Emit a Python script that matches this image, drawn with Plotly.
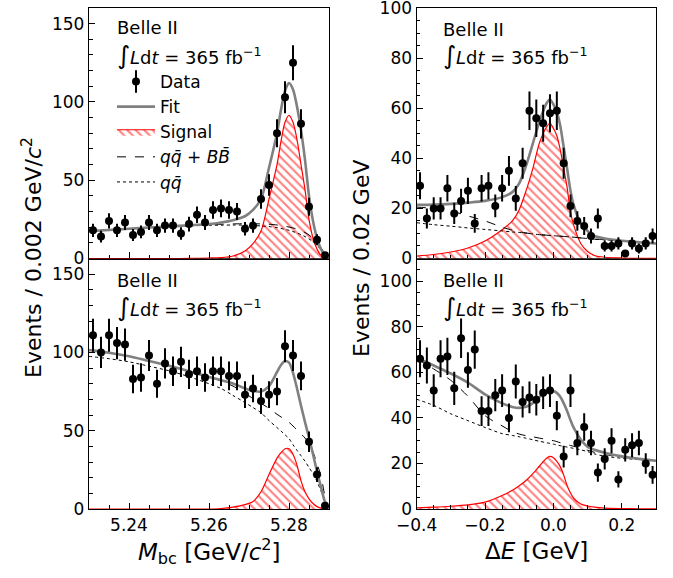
import numpy as np
import plotly.graph_objects as go

# ---------------- data ----------------
mbc_bins = [round(5.231 + 0.002 * i, 3) for i in range(30)]
de_bins = [round(-0.39 + 0.02 * i, 2) for i in range(35)]

mbc_top_counts = [18, 14, 24, 18, 23, 15, 17, 23, 18, 21, 21, 16, 22, 28, 23,
                  31, 32, 31, 30, 19, 21, 38, 47, 80, 103, 125, 86, 33, 12, 2]
mbc_bot_counts = [111, 100, 111, 106, 105, 83, 84, 98, 80, 93, 88, 94, 86, 88, 84,
                  88, 88, 85, 85, 73, 77, 69, 73, 75, 104, 98, 85, 43, 22, 2]
de_top_counts = [29, 16, 20, 20, 28, 18, 23, 27, 14, 28, 29, 21, 28, 35, 24, 38, 59, 56,
                 54, 58, 59, 38, 21, 15, 13, 9, 16, 5, 5, 6, 2, 6, 4, 6, 9]
de_bot_counts = [66, 63, 52, 66, 67, 53, 75, 61, 70, 43, 43, 50, 52, 40, 56, 47, 49, 48,
                 51, 52, 41, 23, 52, 29, 36, 29, 16, 22, 30, 13, 26, 28, 29, 20, 15]

mbc_grid = [5.23, 5.235, 5.24, 5.245, 5.25, 5.255, 5.26, 5.263, 5.266, 5.269, 5.271,
            5.273, 5.275, 5.277, 5.278, 5.279, 5.28, 5.281, 5.282, 5.283, 5.284, 5.285,
            5.286, 5.287, 5.288, 5.289, 5.29]
mbc_top_fit = [17.5, 18.2, 19, 19.8, 20.5, 21.2, 22.0, 23.0, 24.5, 27, 31, 38, 58, 80,
               95, 107, 112, 108, 97, 82, 63, 40, 24, 13, 6, 2, 0]
mbc_top_sig = [0, 0, 0, 0, 0, 0.05, 0.3, 0.6, 1.6, 4.8, 9.5, 17.5, 38, 60, 75, 87, 91.5,
               87, 76, 60, 44, 25, 13, 6, 2, 0.6, 0]
mbc_top_bkg = [17.5, 18.2, 19, 19.8, 20.5, 21.1, 21.6, 21.9, 22.1, 22.2, 22.2, 22.1, 21.9,
               21.4, 21.0, 20.6, 20.1, 19.5, 18.8, 17.8, 16.6, 15, 12.8, 10, 6.8, 3.5, 0]
mbc_top_qq = [17.5, 18.2, 19, 19.7, 20.3, 20.8, 21.2, 21.3, 21.4, 21.3, 21.1, 20.8, 20.4,
              19.7, 19.2, 18.6, 18, 17.2, 16.3, 15.2, 14, 12.5, 10.6, 8.3, 5.8, 3, 0]

mbc_bot_fit = [101.5, 99.8, 97.5, 94.5, 91.5, 88, 84.3, 82.3, 80.2, 77, 75.5, 75, 78.5,
               87.5, 92, 94.5, 93.5, 87, 77, 66, 55.5, 45.5, 35, 24, 14, 4.5, 0]
mbc_bot_sig = [0, 0, 0, 0, 0, 0, 0, 0.3, 1.2, 2.8, 4.8, 11, 22, 32.5, 36, 38.5, 38.5, 35,
               28, 18, 11, 6.5, 3.5, 1.5, 0.6, 0.2, 0]
mbc_bot_bkg = [101.5, 99.8, 97.5, 94.5, 91.5, 88, 84.2, 81.8, 78.5, 74, 70.5, 67.5, 64.3,
               60.5, 58.8, 57.3, 55.4, 53, 50.5, 48, 45.3, 42, 36.5, 29, 21, 8, 0]
mbc_bot_qq = [97.5, 96, 94, 91.2, 88.3, 84.5, 80, 77, 72.5, 68, 64.8, 61.5, 56.5, 52, 49.8,
              47.4, 45, 41, 37.5, 34, 30.5, 26.5, 22.5, 17.5, 11.5, 5, 0]

de_grid = [-0.4, -0.35, -0.3, -0.25, -0.2, -0.15, -0.12, -0.1, -0.08, -0.06, -0.04, -0.02,
           -0.01, 0.0, 0.01, 0.02, 0.03, 0.04, 0.05, 0.06, 0.08, 0.1, 0.12, 0.15, 0.2,
           0.25, 0.3]
de_top_fit = [21.4, 21.5, 21.8, 22.3, 23, 24.5, 26.5, 30, 37, 46, 55, 62, 63.5, 61.5, 58.5,
              53, 44.5, 36, 27, 21, 14, 11, 9, 8.0, 7.1, 6.5, 6.0]
de_top_sig = [1.0, 1.6, 2.6, 4.2, 7.0, 11.5, 15, 19.5, 27, 36, 46.5, 52.5, 54, 52, 49,
              43.5, 36, 28.5, 18.5, 13, 6, 2.8, 1.2, 0.5, 0.2, 0.1, 0.05]
de_top_bkg = [20.5, 20, 19, 17, 15, 12.5, 11.3, 10.7, 10.2, 9.8, 9.5, 9.3, 9.2, 9.1, 9.0,
              8.9, 8.8, 8.7, 8.6, 8.5, 8.2, 8.0, 7.7, 7.6, 7.0, 6.4, 5.9]
de_top_qq = [14.3, 13.5, 12.9, 12.2, 11.6, 11, 10.6, 10.4, 10.1, 9.8, 9.5, 9.3, 9.2, 9.1,
             9.0, 8.9, 8.8, 8.7, 8.6, 8.5, 8.2, 8.0, 7.7, 7.5, 6.9, 6.4, 5.8]

de_bot_fit = [66.5, 63, 59.5, 55.5, 50.3, 46.4, 44.8, 44.4, 44.9, 46.5, 49.3, 51.3, 52,
              51.8, 51, 49.3, 46.5, 43, 39, 35.5, 30.5, 27.3, 26, 24.7, 23.1, 22, 21.2]
de_bot_sig = [0.5, 0.8, 1.2, 1.8, 3.0, 5.9, 8.2, 10.2, 12.5, 15.5, 19, 22.3, 23.1, 22.5,
              20.9, 18.6, 15, 10.3, 7, 4.6, 2.2, 1.3, 0.8, 0.4, 0.2, 0.1, 0.05]
de_bot_bkg = [66, 61.5, 56.5, 49.5, 41, 36.5, 34, 32.9, 32.2, 31.7, 31.1, 30.6, 30.3, 30,
              29.6, 29.1, 28.7, 28.3, 27.9, 27.5, 26.7, 25.8, 24.9, 23.9, 22.8, 22, 21.2]
de_bot_qq = [48.2, 45.5, 41.8, 38.8, 35.8, 33.1, 32.3, 31.7, 31.1, 30.4, 29.7, 29.1, 28.8,
             28.5, 28.1, 27.8, 27.5, 27.2, 26.9, 26.6, 26, 25.2, 24.2, 23.2, 22.3, 21.7, 21.2]

# ---------------- figure ----------------
FONT = "DejaVu Sans"
fig = go.Figure()

QQ_BB = "<i>q</i><i>q\u0304</i> + <i>B</i><i>B\u0304</i>"
QQ = "<i>q</i><i>q\u0304</i>"


def add_panel(xa, ya, bins, counts, grid, fit, sig, bkg, qq, legend):
    fig.add_trace(go.Scatter(
        x=grid, y=sig, xaxis=xa, yaxis=ya, mode="lines", name="Signal",
        line=dict(color="red", width=1.2, shape="spline", smoothing=0.8),
        fill="tozeroy", fillcolor="white",
        fillpattern=dict(shape="\\", fgcolor="red", bgcolor="white", size=6, solidity=0.35),
        showlegend=legend, legendrank=3))
    fig.add_trace(go.Scatter(
        x=grid, y=qq, xaxis=xa, yaxis=ya, mode="lines", name=QQ,
        line=dict(color="black", width=1, dash="dot", shape="spline", smoothing=0.8),
        showlegend=legend, legendrank=5))
    fig.add_trace(go.Scatter(
        x=grid, y=bkg, xaxis=xa, yaxis=ya, mode="lines", name=QQ_BB,
        line=dict(color="black", width=1, dash="dash", shape="spline", smoothing=0.8),
        showlegend=legend, legendrank=4))
    fig.add_trace(go.Scatter(
        x=grid, y=fit, xaxis=xa, yaxis=ya, mode="lines", name="Fit",
        line=dict(color="#808080", width=2.6, shape="spline", smoothing=0.8),
        showlegend=legend, legendrank=2))
    fig.add_trace(go.Scatter(
        x=bins, y=counts, xaxis=xa, yaxis=ya, mode="markers", name="Data",
        marker=dict(color="black", size=8),
        error_y=dict(type="data", array=np.sqrt(np.array(counts, dtype=float)),
                     color="black", thickness=2, width=0),
        cliponaxis=False, showlegend=legend, legendrank=1))


add_panel("x3", "y3", mbc_bins, mbc_top_counts, mbc_grid, mbc_top_fit, mbc_top_sig,
          mbc_top_bkg, mbc_top_qq, True)
add_panel("x4", "y4", de_bins, de_top_counts, de_grid, de_top_fit, de_top_sig,
          de_top_bkg, de_top_qq, False)
add_panel("x", "y", mbc_bins, mbc_bot_counts, mbc_grid, mbc_bot_fit, mbc_bot_sig,
          mbc_bot_bkg, mbc_bot_qq, False)
add_panel("x2", "y2", de_bins, de_bot_counts, de_grid, de_bot_fit, de_bot_sig,
          de_bot_bkg, de_bot_qq, False)

# legend-only glyph: vertical error bar drawn over the "Data" legend marker
fig.add_trace(go.Scatter(
    x=[None], y=[None], xaxis="x3", yaxis="y3", mode="markers", name=" ",
    marker=dict(symbol="line-ns", size=18, color="black",
                line=dict(width=2, color="black")),
    showlegend=True, legend="legend2"))

LEFT_DOM = [0.0, 0.4233]
RIGHT_DOM = [0.5778, 1.0]

axis_common = dict(showline=True, linecolor="black", linewidth=1.3, mirror=True,
                   ticks="inside", ticklen=6, tickwidth=1, tickcolor="black",
                   showgrid=False, zeroline=False, automargin=False,
                   tickfont=dict(family=FONT, size=17, color="black"))


def minor(d, t0=0):
    return dict(ticks="inside", ticklen=3.5, tickwidth=1, tickcolor="black",
                dtick=d, tick0=t0, showgrid=False)


mbc_ticks = [5.24, 5.26, 5.28]
de_ticks = [-0.4, -0.2, 0.0, 0.2]
de_ticktext = ["\u22120.4", "\u22120.2", "0.0", "0.2"]

fig.update_layout(
    xaxis=dict(axis_common, domain=LEFT_DOM, range=[5.23, 5.29], tickvals=mbc_ticks,
               ticktext=["5.24", "5.26", "5.28"], minor=minor(0.005, 5.23), anchor="y"),
    yaxis=dict(axis_common, domain=[0, 0.5], range=[0, 160], tickvals=[0, 50, 100, 150],
               minor=minor(10), anchor="x"),
    xaxis2=dict(axis_common, domain=RIGHT_DOM, range=[-0.4, 0.3], tickvals=de_ticks,
                ticktext=de_ticktext, minor=minor(0.05, -0.4), anchor="y2"),
    yaxis2=dict(axis_common, domain=[0, 0.5], range=[0, 110],
                tickvals=[0, 20, 40, 60, 80, 100], minor=minor(5), anchor="x2"),
    xaxis3=dict(axis_common, domain=LEFT_DOM, range=[5.23, 5.29], tickvals=mbc_ticks,
                showticklabels=False, minor=minor(0.005, 5.23), anchor="y3"),
    yaxis3=dict(axis_common, domain=[0.5, 1], range=[0, 160], tickvals=[0, 50, 100, 150],
                minor=minor(10), anchor="x3"),
    xaxis4=dict(axis_common, domain=RIGHT_DOM, range=[-0.4, 0.3], tickvals=de_ticks,
                showticklabels=False, minor=minor(0.05, -0.4), anchor="y4"),
    yaxis4=dict(axis_common, domain=[0.5, 1], range=[0, 100], ticklabeloverflow="allow",
                tickvals=[0, 20, 40, 60, 80, 100], minor=minor(5), anchor="x4"),
)

W, H = 673, 578
ML, MR, MT, MB = 89, 17, 8, 69
PW, PH = W - ML - MR, H - MT - MB


def px(x):
    return (x - ML) / PW


def py(y):
    return (H - MB - y) / PH


annots = []
INTEG = ("<span style='font-size:25px'>\u222b</span><i>L</i>d<i>t</i> = 365 fb"
         "<sup>\u22121</sup>")
for (x0, yb, yi) in [(115, 28, 55), (441, 29, 56), (115, 280, 307), (441, 280, 307)]:
    annots.append(dict(x=px(x0), y=py(yb), xref="paper", yref="paper", text="Belle II",
                       showarrow=False, xanchor="left", yanchor="middle",
                       font=dict(family=FONT, size=18, color="black")))
    annots.append(dict(x=px(x0), y=py(yi), xref="paper", yref="paper", text=INTEG,
                       showarrow=False, xanchor="left", yanchor="middle",
                       font=dict(family=FONT, size=18, color="black")))

annots.append(dict(x=px(32), y=py(258), xref="paper", yref="paper",
                   text="Events / 0.002 GeV/<i>c</i><sup>2</sup>", textangle=-90,
                   showarrow=False, xanchor="center", yanchor="middle",
                   font=dict(family=FONT, size=22, color="black")))
annots.append(dict(x=px(361), y=py(258), xref="paper", yref="paper",
                   text="Events / 0.02 GeV", textangle=-90,
                   showarrow=False, xanchor="center", yanchor="middle",
                   font=dict(family=FONT, size=22, color="black")))
annots.append(dict(x=px(209), y=py(551), xref="paper", yref="paper",
                   text="<i>M</i><sub>bc</sub> [GeV/<i>c</i><sup>2</sup>]",
                   showarrow=False, xanchor="center", yanchor="middle",
                   font=dict(family=FONT, size=23, color="black")))
annots.append(dict(x=px(536), y=py(551), xref="paper", yref="paper",
                   text="\u0394<i>E</i> [GeV]",
                   showarrow=False, xanchor="center", yanchor="middle",
                   font=dict(family=FONT, size=23, color="black")))

LEG_X, LEG_Y = px(112), py(64)
leg_common = dict(x=LEG_X, y=LEG_Y, xanchor="left", yanchor="top",
                  bgcolor="rgba(0,0,0,0)", borderwidth=0, itemwidth=38,
                  font=dict(family=FONT, size=17, color="black"),
                  traceorder="normal", tracegroupgap=0)

fig.update_layout(
    width=W, height=H,
    margin=dict(l=ML, r=MR, t=MT, b=MB, autoexpand=False),
    paper_bgcolor="white", plot_bgcolor="white",
    font=dict(family=FONT, color="black"),
    annotations=annots,
    legend=leg_common,
    legend2=leg_common,
)

fig.write_html("out.html", config={"displayModeBar": False},
               post_script="document.body.style.margin='0px';"
                           "document.body.style.padding='0px';")
